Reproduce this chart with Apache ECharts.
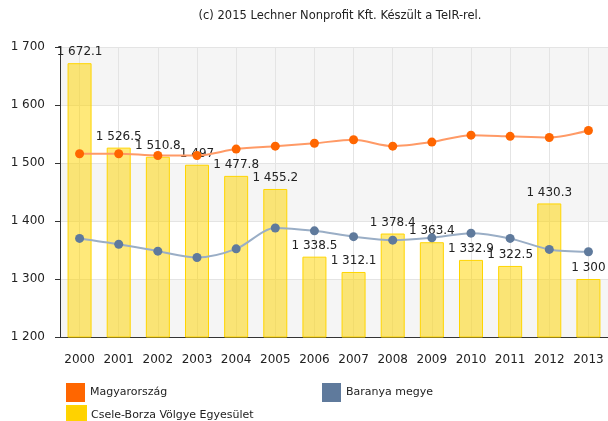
<!DOCTYPE html>
<html>
<head>
<meta charset="utf-8">
<script src="https://cdn.jsdelivr.net/npm/echarts@6/dist/echarts.min.js"></script>
<style>
  html, body { margin: 0; padding: 0; background: #fff; }
  #chart { width: 608px; height: 421px; }
</style>
</head>
<body>
<div id="chart"></div>
<script>
const years = ['2000', '2001', '2002', '2003', '2004', '2005', '2006', '2007', '2008', '2009', '2010', '2011', '2012', '2013']
const csele = [1672.1, 1526.5, 1510.8, 1497, 1477.8, 1455.2, 1338.5, 1312.1, 1378.4, 1363.4, 1332.9, 1322.5, 1430.3, 1300]
const magyarorszag = [1516, 1516, 1513, 1513, 1524, 1529, 1534, 1540, 1529, 1536, 1548, 1546, 1544, 1556]
const baranya = [1370, 1360, 1348, 1337, 1352, 1388, 1383, 1373, 1367, 1371, 1379, 1370, 1351, 1347]

const font = 'DejaVu Sans'

// hu number format: 1 672.1
function fmt (v) {
  const parts = String(v).split('.')
  parts[0] = parts[0].replace(/\B(?=(\d{3})+(?!\d))/g, ' ')
  return parts.join('.')
}

const legendBase = {
  icon: 'rect',
  itemWidth: 19,
  itemHeight: 19,
  itemGap: 0,
  textStyle: { fontSize: 11, color: '#222', fontFamily: font }
}

const chart = echarts.init(document.getElementById('chart'))
const option = {
  animation: false,
  textStyle: { fontFamily: font },
  title: {
    text: '(c) 2015 Lechner Nonprofit Kft. Készült a TeIR-rel.',
    left: 335,
    textAlign: 'center',
    top: 5,
    textStyle: { fontSize: 11.5, fontWeight: 'normal', color: '#222', fontFamily: font }
  },
  legend: [
    Object.assign({ left: 61, top: 378, data: [{ name: 'Magyarország', itemStyle: { color: '#ff6600' } }] }, legendBase),
    Object.assign({ left: 317, top: 378, data: [{ name: 'Baranya megye', itemStyle: { color: '#5f7a9c' } }] }, legendBase),
    Object.assign({ left: 61, top: 400, data: [{ name: 'Csele-Borza Völgye Egyesület', itemStyle: { color: '#ffd200' } }] }, legendBase)
  ],
  grid: { left: 60, right: -1, top: 47, bottom: 84, containLabel: false },
  xAxis: {
    type: 'category',
    data: years,
    z: 2,
    axisLine: { lineStyle: { color: '#333', width: 1 } },
    axisTick: { alignWithLabel: true, interval: 0, length: 5, lineStyle: { color: '#333' } },
    axisLabel: { interval: 0, fontSize: 12, color: '#222', margin: 17 },
    splitLine: { show: true, interval: 0, alignWithLabel: true, lineStyle: { color: '#e4e4e4' } }
  },
  yAxis: {
    type: 'value',
    min: 1200,
    max: 1700,
    interval: 100,
    axisLine: { show: true, lineStyle: { color: '#333' } },
    axisTick: { show: true, length: 5, lineStyle: { color: '#333' } },
    axisLabel: { fontSize: 12, color: '#222', margin: 15, formatter: fmt },
    splitLine: { lineStyle: { color: '#e4e4e4' } },
    splitArea: { show: true, areaStyle: { color: ['#f5f5f5', '#ffffff'] } }
  },
  series: [
    {
      name: 'Csele-Borza Völgye Egyesület',
      type: 'bar',
      data: csele,
      barWidth: 24,
      itemStyle: { color: 'rgba(255, 213, 0, 0.52)', borderColor: '#ffd500', borderWidth: 1 },
      label: { show: true, position: 'top', distance: 5, fontSize: 12, color: '#222', fontFamily: font, formatter: (p) => fmt(p.value) },
      z: 3
    },
    {
      name: 'Magyarország',
      type: 'line',
      data: magyarorszag,
      smooth: 0.3,
      symbol: 'circle',
      symbolSize: 9,
      itemStyle: { color: '#ff6600' },
      lineStyle: { color: '#ff9a66', width: 2 },
      z: 4
    },
    {
      name: 'Baranya megye',
      type: 'line',
      data: baranya,
      smooth: 0.3,
      symbol: 'circle',
      symbolSize: 9,
      itemStyle: { color: '#5f7a9c' },
      lineStyle: { color: '#9aaec6', width: 2 },
      z: 4
    }
  ]
}
chart.setOption(option)
</script>
</body>
</html>
